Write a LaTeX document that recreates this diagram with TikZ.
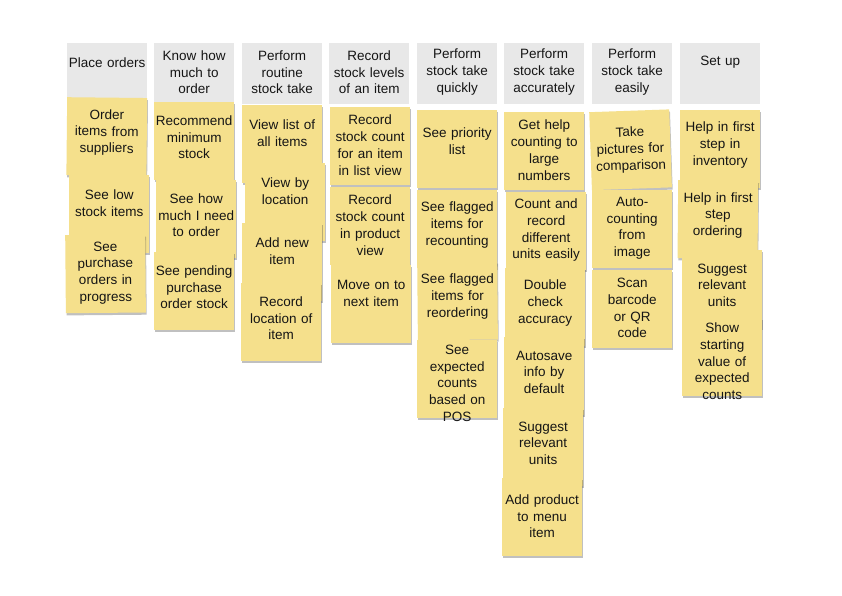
\documentclass[tikz,border=0pt]{standalone}
\usepackage{fontspec}
\setmainfont{Liberation Sans}
\usepackage{tikz}
\usetikzlibrary{shadows}
\definecolor{stickyyellow}{HTML}{F5E08C}
\definecolor{headgray}{HTML}{E8E8E8}
\definecolor{inkdark}{HTML}{151515}
\newcommand\liftnote[1]{\endgraf\vspace{#1pt}}

\begin{document}
\begin{tikzpicture}[x=1pt,y=1pt,
		hdr/.style={anchor=north west, fill=headgray, minimum width=80pt, minimum height=61pt,
			text width=80pt, inner sep=0pt, align=center, text=inkdark,
			font=\fontsize{13.5}{16.7}\selectfont, execute at end node={\liftnote{#1}}},
		hdr/.default=3,
		sticky/.style={anchor=north west, fill=stickyyellow, minimum width=80pt, minimum height=78pt,
			text width=80pt, inner sep=0pt, align=center, text=inkdark,
			font=\fontsize{13.5}{16.7}\selectfont, execute at end node={\liftnote{#1}},
			drop shadow={shadow xshift=0.8pt, shadow yshift=-2.2pt, fill=black!70, opacity=0.35}},
		sticky/.default=8]
	\useasboundingbox (0,0) rectangle (842,-595);
	\fill[white] (0,0) rectangle (842,-595);

	% column heads
	\node[hdr=23] (h1) at (67,-43) {Place orders};
	\node[hdr] (h2) at (154,-43) {Know how\\much to\\order};
	\node[hdr] (h3) at (242,-43) {Perform\\routine\\stock take};
	\node[hdr] (h4) at (329,-43) {Record\\stock levels\\of an item};
	\node[hdr] (h5) at (417,-43) {Perform\\stock take\\quickly};
	\node[hdr] (h6) at (504,-43) {Perform\\stock take\\accurately};
	\node[hdr] (h7) at (592,-43) {Perform\\stock take\\easily};
	\node[hdr=23] (h8) at (680,-43) {Set up};

	% place orders
	\node[sticky, rotate=-0.6] (order) at (67,-97) {Order\\items from\\suppliers};
	\node[sticky=22] (lowstock) at (69,-175) {See low\\stock items};
	\node[sticky=2, rotate=0.5] (purchase) at (65,-235) {See\\purchase\\orders in\\progress};

	% know how much to order
	\node[sticky] (minstock) at (154,-102) {Recommend\\minimum\\stock};
	\node[sticky] (howmuch) at (156,-180) {See how\\much I need\\to order};
	\node[sticky] (pending) at (154,-252) {See pending\\purchase\\order stock};

	% routine stock take
	\node[sticky=22] (viewlist) at (242,-105) {View list of\\all items};
	\node[sticky=22] (byloc) at (245,-163) {View by\\location};
	\node[sticky=22] (newitem) at (242,-223) {Add new\\item};
	\node[sticky] (recloc) at (241,-283) {Record\\location of\\item};

	% stock levels
	\node[sticky=2] (countlist) at (330,-107) {Record\\stock count\\for an item\\in list view};
	\node[sticky=2] (countprod) at (330,-187) {Record\\stock count\\in product\\view};
	\node[sticky=22] (moveon) at (331,-265) {Move on to\\next item};

	% quickly
	\node[sticky=16] (priority) at (417,-110) {See priority\\list};
	\node[sticky] (recount) at (417,-190) {See flagged\\items for\\recounting};
	\node[sticky, rotate=0.5] (reorder) at (417,-262) {See flagged\\items for\\reordering};
	\node[sticky=-8] (expected) at (417,-340) {See\\expected\\counts\\based on\\POS};

	% accurately
	\node[sticky=2] (helpcount) at (504,-112) {Get help\\counting to\\large\\numbers};
	\node[sticky=2] (units) at (506,-192) {Count and\\record\\different\\units easily};
	\node[sticky] (double) at (505,-268) {Double\\check\\accuracy};
	\node[sticky] (autosave) at (504,-337) {Autosave\\info by\\default};
	\node[sticky] (suggest) at (503,-408) {Suggest\\relevant\\units};
	\node[sticky=2] (menuitem) at (502,-478) {Add product\\to menu\\item};

	% easily
	\node[sticky=0, rotate=2] (pictures) at (589,-112) {Take\\pictures for\\comparison};
	\node[sticky=2] (autocount) at (592,-190) {Auto-\\counting\\from\\image};
	\node[sticky=2] (scan) at (592,-270) {Scan\\barcode\\or QR\\code};

	% set up
	\node[sticky] (firstinv) at (680,-110) {Help in first\\step in\\inventory};
	\node[sticky, rotate=-0.5] (firstord) at (678,-180) {Help in first\\step\\ordering};
	\node[sticky] (suggestset) at (682,-250) {Suggest\\relevant\\units};
	\node[sticky=-8] (startval) at (682,-318) {Show\\starting\\value of\\expected\\counts};
\end{tikzpicture}
\end{document}
